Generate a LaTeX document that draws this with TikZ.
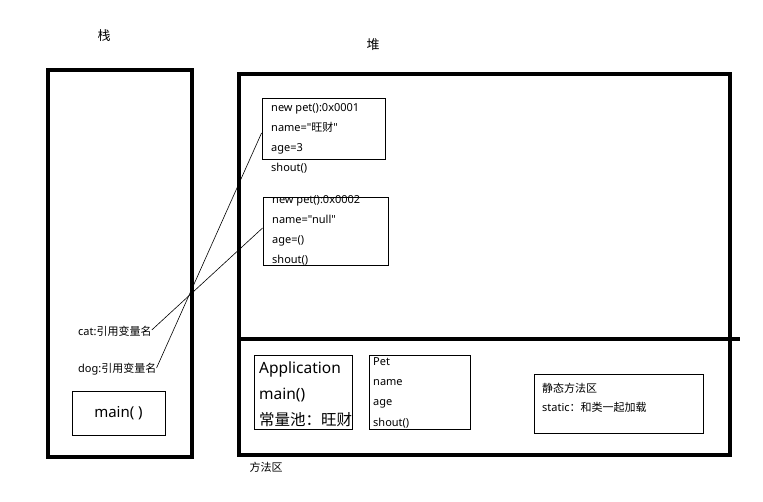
\documentclass[tikz,border=0pt]{standalone}
\usepackage{fontspec}
\setmainfont{Noto Sans}[Ligatures=TeXOff]
\newfontfamily\cjk{Noto Sans CJK SC}
\begin{document}
\begin{tikzpicture}[x=1pt,y=-1pt,
  thick box/.style={draw=black,line width=4.5pt},
  thin box/.style={draw=black,line width=0.9pt},
  small/.style={font=\fontsize{11}{13}\selectfont,anchor=west,inner sep=0pt,text height=8.5pt,text depth=2.5pt},
  big/.style={font=\fontsize{15.5}{18}\selectfont,anchor=west,inner sep=0pt,text height=12pt,text depth=3.5pt},
  link/.style={draw=black,line width=0.6pt}]
\useasboundingbox (0,0) rectangle (763,502);
% titles
\node[font=\fontsize{13}{15}\selectfont\cjk] (stacklbl) at (104,36) {栈};
\node[font=\fontsize{13}{15}\selectfont\cjk] (heaplbl) at (373,45) {堆};
% stack
\draw[thick box] (48,70) rectangle (192,457);
% heap
\draw[thick box] (239,74) rectangle (730,455);
\coordinate (divL) at (239,339);
\coordinate (divR) at (740,339);
\draw[line width=4.5pt] (divL) -- (divR);
% object 1
\node[thin box,minimum width=123pt,minimum height=61pt,inner sep=0pt] (obj1) at (323.5,128.5) {};
\node[small] (o1a) at (271,109) {new pet():0x0001};
\node[small] (o1b) at (271,129) {name="{\cjk 旺财}"};
\node[small] (o1c) at (271,149) {age=3};
\node[small] (o1d) at (271,169) {shout()};
% object 2
\node[thin box,minimum width=125pt,minimum height=68pt,inner sep=0pt] (obj2) at (325.5,231) {};
\node[small] (o2a) at (272,201) {new pet():0x0002};
\node[small] (o2b) at (272,221) {name="null"};
\node[small] (o2c) at (272,241) {age=()};
\node[small] (o2d) at (272,261) {shout()};
% stack vars
\node[small] (cat) at (78,333) {cat:{\cjk 引用变量名}};
\node[small] (dog) at (78,370) {dog:{\cjk 引用变量名}};
\node[thin box,minimum width=93pt,minimum height=44pt,inner sep=0pt,font=\fontsize{15}{17}\selectfont] (main) at (118.5,413) {main( )};
% links
\draw[link] ([yshift=3pt]cat.east) -- ([yshift=3pt]obj2.west);
\draw[link] ([yshift=2pt]dog.east) -- ([yshift=-4.5pt]obj1.west);
% method area
\node[thin box,minimum width=98pt,minimum height=74pt,inner sep=0pt] (app) at (303,392) {};
\node[big] (appa) at (259,369) {Application};
\node[big] (appb) at (259,395) {main()};
\node[big] (appc) at (259,421) {\cjk 常量池：旺财};
\node[thin box,minimum width=101pt,minimum height=74pt,inner sep=0pt] (pet) at (419.5,392) {};
\node[small] (peta) at (373,363) {Pet};
\node[small] (petb) at (373,383) {name};
\node[small] (petc) at (373,403) {age};
\node[small] (petd) at (373,423) {shout()};
\node[thin box,minimum width=169pt,minimum height=59pt,inner sep=0pt] (stat) at (618.5,403.5) {};
\node[small] (stata) at (542,389) {\cjk 静态方法区};
\node[small] (statb) at (542,409) {static{\cjk ：和类一起加载}};
\node[font=\fontsize{11}{13}\selectfont\cjk,inner sep=0pt] (malbl) at (266,467) {方法区};
\end{tikzpicture}
\end{document}
